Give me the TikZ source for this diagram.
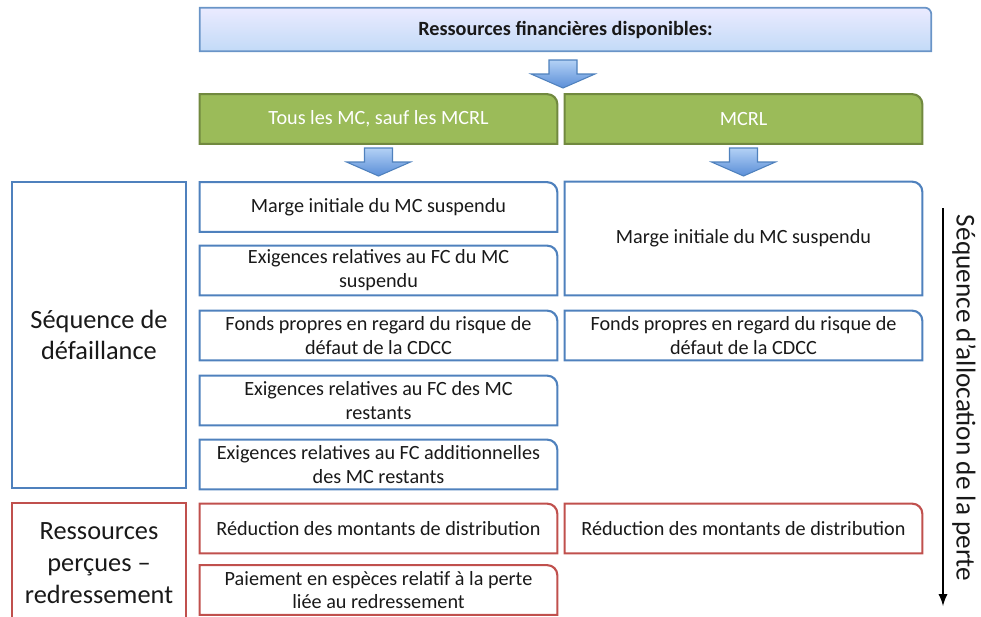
\documentclass[tikz,border=0pt]{standalone}
\usepackage{fontspec}
\setmainfont{Carlito}
\usepackage{tikz}
\usetikzlibrary{backgrounds}

\definecolor{boxblue}{HTML}{4F81BD}
\definecolor{boxred}{HTML}{C0504D}
\definecolor{boxgreen}{HTML}{9BBB59}
\definecolor{greenline}{HTML}{71893F}
\definecolor{arrowtop}{HTML}{B3D1F5}
\definecolor{arrowbot}{HTML}{5A8ED8}

\tikzset{
  box/.style={minimum width=7.14cm, minimum height=0.98cm, inner sep=0pt, align=center,
    font=\fontsize{11.5}{13.6}\selectfont, text=black!90},
  sidebox/.style={minimum width=3.48cm, inner sep=0pt, align=center,
    font=\fontsize{15}{18.1}\selectfont, text=black!90},
  blockarrow/.style={draw=boxblue, line width=0.6pt, top color=arrowtop, bottom color=arrowbot},
}

\begin{document}
\begin{tikzpicture}[x=0.02cm, y=-0.02cm]
		\clip (0,0) rectangle (981,616);
		% titre
		\node[box, minimum width=14.62cm, minimum height=0.86cm, font=\fontsize{11.5}{13}\selectfont\bfseries] (res) at (565.5,29.5) {Ressources financières disponibles:};
		
		\node[box, text=white] (tous) at (378.5,119) {Tous les MC, sauf les MCRL};
		\node[box, text=white] (mcrl) at (743.5,119) {MCRL};
		
		% colonne du milieu
		\node[box] (m1) at (378.5,207) {Marge initiale du MC suspendu};
		\node[box] (m2) at (378.5,270.5) {Exigences relatives au FC du MC\\suspendu};
		\node[box] (m3) at (378.5,335.5) {Fonds propres en regard du risque de\\défaut de la CDCC};
		\node[box] (m4) at (378.5,400.5) {Exigences relatives au FC des MC\\restants};
		\node[box] (m5) at (378.5,464.5) {Exigences relatives au FC additionnelles\\des MC restants};
		\node[box] (m6) at (378.5,528.5) {Réduction des montants de distribution};
		\node[box] (m7) at (378.5,590) {Paiement en espèces relatif à la perte\\liée au redressement};
		
		% colonne de droite
		\node[box, minimum height=2.26cm] (d1) at (743.5,238.5) {Marge initiale du MC suspendu};
		\node[box] (d3) at (743.5,335.5) {Fonds propres en regard du risque de\\défaut de la CDCC};
		\node[box] (d6) at (743.5,528.5) {Réduction des montants de distribution};
		
		% colonne de gauche
		\node[sidebox, minimum height=6.12cm] (seq) at (99,335) {Séquence de\\défaillance};
		\node[sidebox, minimum height=2.4cm] (rec) at (99,563) {Ressources\\perçues --\\redressement};
		
		\begin{scope}[on background layer]
			\draw[top color=blue!8, bottom color=arrowtop!80, draw=boxblue!85, line width=1pt] (res.south west) -- (res.north west) -- ([xshift=-0.13cm]res.north east) arc[start angle=90, end angle=0, radius=0.13cm] -- (res.south east) -- cycle;
			\foreach \n in {tous,mcrl}
				\draw[fill=boxgreen, draw=greenline, line width=1.2pt] (\n.south west) -- (\n.north west) -- ([xshift=-0.2cm]\n.north east) arc[start angle=90, end angle=0, radius=0.2cm] -- (\n.south east) -- cycle;
			\foreach \n/\c in {m1/boxblue, m2/boxblue, m3/boxblue, m4/boxblue, m5/boxblue, d1/boxblue, d3/boxblue, m6/boxred, m7/boxred, d6/boxred}
				\draw[draw=\c, line width=1.2pt] (\n.south west) -- (\n.north west) -- ([xshift=-0.2cm]\n.north east) arc[start angle=90, end angle=0, radius=0.2cm] -- (\n.south east) -- cycle;
			\draw[boxblue, line width=1.2pt] (seq.south west) rectangle (seq.north east);
			\draw[boxred, line width=1.2pt] ([yshift=-1cm]rec.south west) rectangle (rec.north east);
		\end{scope}
		
		% fleches bleues
		\foreach \ax/\ay in {563/60, 378.5/148, 743.5/148}
			\draw[blockarrow] (\ax-14,\ay) -- (\ax+14,\ay) -- (\ax+14,\ay+14) -- (\ax+32,\ay+14) -- (\ax,\ay+28) -- (\ax-32,\ay+14) -- (\ax-14,\ay+14) -- cycle;
		
		% sequence d'allocation
		\coordinate (haut) at (943,208);
		\coordinate (bas) at (943,606);
		\draw[-latex, line width=1.3pt] (haut) -- (bas);
		\node[rotate=-90, font=\fontsize{15.5}{17}\selectfont, text=black!90] (alloc) at (964,398) {Séquence d'allocation de la perte};
	\end{tikzpicture}
\end{document}
